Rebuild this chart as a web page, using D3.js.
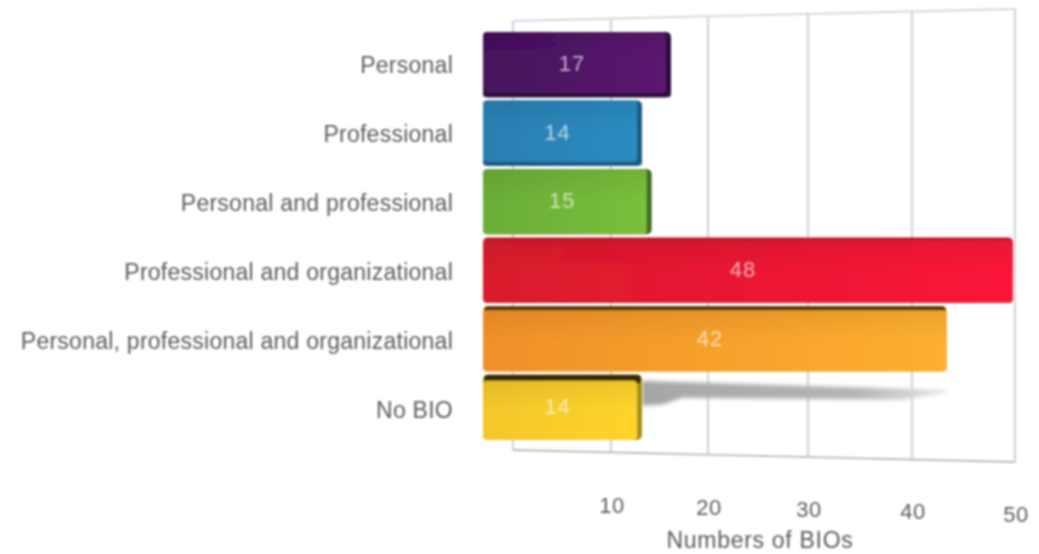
<!DOCTYPE html>
<html><head><meta charset="utf-8">
<script src="https://cdn.jsdelivr.net/npm/d3@7"></script>
<style>html,body{margin:0;padding:0;background:#fff}svg{display:block}text{font-family:"Liberation Sans",Arial,sans-serif}</style>
</head><body><svg id="c" width="1039" height="554"></svg>
<script>
const categories=["Personal","Professional","Personal and professional","Professional and organizational","Personal, professional and organizational","No BIO"];
const values=[17,14,15,48,42,14];
const colorsLeft=["#45125c","#2a7fb2","#6aad38","#d81c2c","#f09029","#f4c72b"];
const colorsRight=["#5c1470","#2a8cc0","#7abf3c","#fb1438","#fdb030","#fed42c"];
const topColors=["#2c0a3a","#1f6a9a","#5f9a30","#a81020","#4a3208","#352a06"];
const sideColors=["#2c0a3a","#1a5a85","#3f6a22","#fb1438","#fdb030","#a98e12"];
const tickValues=[10,20,30,40,50];
const axisTitle="Numbers of BIOs";

const svg=d3.select("#c");
const defs=svg.append("defs");
const addBlur=(id,sd)=>defs.append("filter").attr("id",id).attr("x","-5%").attr("y","-20%").attr("width","110%").attr("height","140%")
  .append("feGaussianBlur").attr("stdDeviation",sd);
addBlur("soft",1);addBlur("softT",1.05);addBlur("softS",2);
categories.forEach((c,i)=>{
  const g=defs.append("linearGradient").attr("id","g"+i).attr("x1",0).attr("x2",1).attr("y1",0).attr("y2",0);
  g.append("stop").attr("offset",0).attr("stop-color",colorsLeft[i]);
  g.append("stop").attr("offset",1).attr("stop-color",colorsRight[i]);
});
const sh=defs.append("linearGradient").attr("id","sh").attr("x1",0).attr("x2",1).attr("y1",0).attr("y2",0);
sh.append("stop").attr("offset",0).attr("stop-color","#a6a6a6");
sh.append("stop").attr("offset",.7).attr("stop-color","#b4b4b4");
sh.append("stop").attr("offset",1).attr("stop-color","#e8e8e8");
const ov=defs.append("linearGradient").attr("id","ov").attr("x1",0).attr("x2",0).attr("y1",0).attr("y2",1);
ov.append("stop").attr("offset",0).attr("stop-color","#000").attr("stop-opacity",.07);
ov.append("stop").attr("offset",.5).attr("stop-color","#000").attr("stop-opacity",0);

// the frame is drawn in perspective: each grid line leans slightly
const xGrid=d3.scaleLinear().domain([0,10,20,30,40,50]).range([513,611,708,808,912,1015]);
const xBar=d3.scaleLinear().domain([0,14,17,48]).range([483,642,671,1013]);
const yTop=d3.scaleLinear().domain([0,50]).range([21,9]);
const yBot=d3.scaleLinear().domain([0,50]).range([450,462]);
const yBand=d3.scaleBand().domain(categories).range([32,440]).paddingInner(0.05);
const yLabel=d3.scalePoint().domain(categories).range([65,410]);

const frame=svg.append("g").attr("filter","url(#soft)").attr("fill","none");
const gridColor="#c9cbcf";
frame.selectAll("line.g").data([0].concat(tickValues)).join("line")
  .attr("x1",d=>xGrid(d)).attr("x2",d=>xGrid(d)).attr("y1",d=>yTop(d)).attr("y2",d=>yBot(d))
  .attr("stroke",gridColor).attr("stroke-width",1.8);
[yTop,yBot].forEach(s=>frame.append("line")
  .attr("x1",xGrid(0)).attr("x2",xGrid(50)).attr("y1",s(0)).attr("y2",s(50))
  .attr("stroke",s===yBot?"#b9bbbf":"#d4d6d9").attr("stroke-width",1.8));

// cast shadow of the orange bar onto the wall, behind the yellow bar
const iO=4,iY=5;
const sx0=xBar(values[iY]),sx1=xBar(values[iO]),sy=yBand(categories[iY]);
svg.append("path").attr("filter","url(#softS)").attr("fill","url(#sh)").attr("d",d3.line()([
  [sx0,sy+6],[sx0+60,sy+8],[sx1,sy+15],[sx1,sy+18],[sx1-45,sy+25],[sx0+40,sy+23],[sx0+20,sy+30],[sx0,sy+31]
])+"Z");
const bars=svg.append("g").attr("filter","url(#soft)");
categories.forEach((c,i)=>{
  const x0=xBar(0),x1=xBar(values[i]),y=yBand(c),h=yBand.bandwidth();
  const topF=i>=4?(i===5?6:4):(i===3?2:0),botF=i<=1?4:0,sideF=(i===3||i===4)?0:5;
  bars.append("rect").attr("x",x0).attr("y",y).attr("width",x1-x0).attr("height",h).attr("rx",5)
    .attr("fill",sideColors[i]);
  if(topF) bars.append("rect").attr("x",x0+1).attr("y",y).attr("width",x1-x0-2).attr("height",topF+3).attr("rx",4)
    .attr("fill",topColors[i]);
  if(botF) bars.append("rect").attr("x",x0).attr("y",y+h-botF-3).attr("width",x1-x0).attr("height",botF+3).attr("rx",4)
    .attr("fill",sideColors[i]);
  bars.append("rect").attr("x",x0).attr("y",y+topF).attr("width",x1-x0-sideF).attr("height",h-topF-botF).attr("rx",4)
    .attr("fill",`url(#g${i})`);
  bars.append("rect").attr("x",x0).attr("y",y+topF).attr("width",x1-x0-sideF).attr("height",h-topF-botF).attr("rx",4)
    .attr("fill","url(#ov)");
});

const lab=svg.append("g").attr("filter","url(#softT)");
lab.selectAll("text.c").data(categories).join("text").attr("class","c")
  .attr("x",453).attr("y",d=>yLabel(d)).attr("dy","0.35em").attr("text-anchor","end")
  .attr("font-size",23).attr("letter-spacing",0.25).attr("fill","#5c5c5c").text(d=>d);
lab.selectAll("text.v").data(values).join("text").attr("class","v")
  .attr("x",d=>(xBar(0)+xBar(d))/2-5).attr("y",(d,i)=>yBand(categories[i])+yBand.bandwidth()/2-1)
  .attr("dy","0.35em").attr("text-anchor","middle").attr("font-size",22).attr("letter-spacing",1).attr("fill","#fff").attr("fill-opacity",.65).text(d=>d);
const yTick=d3.scaleLinear().domain([10,50]).range([505,514]);
lab.selectAll("text.t").data(tickValues).join("text").attr("class","t")
  .attr("x",d=>xGrid(d)+1).attr("y",d=>yTick(d)).attr("dy","0.35em").attr("text-anchor","middle")
  .attr("font-size",22).attr("letter-spacing",0.5).attr("fill","#5c5c5c").text(d=>d);
lab.append("text").attr("x",760).attr("y",540).attr("dy","0.35em").attr("text-anchor","middle")
  .attr("font-size",23).attr("letter-spacing",0.7).attr("fill","#5c5c5c").text(axisTitle);
</script></body></html>
